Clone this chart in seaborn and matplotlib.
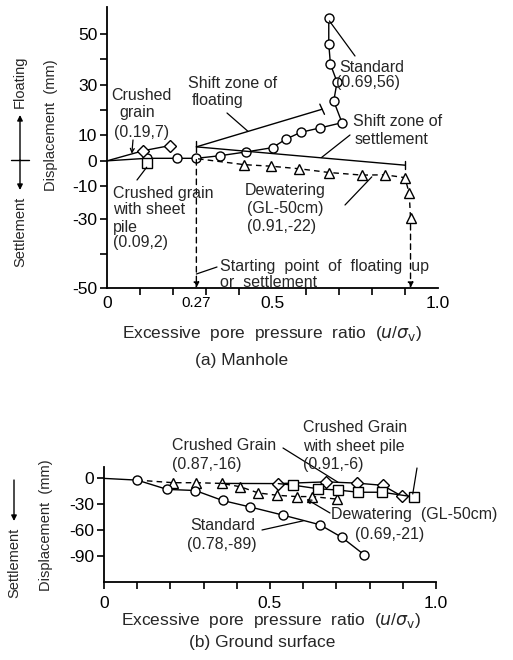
import matplotlib
matplotlib.use("Agg")
import matplotlib.pyplot as plt
import seaborn as sns
import pandas as pd

# ---------------- data: (a) Manhole ----------------
std_a_x = [0.0, 0.12, 0.21, 0.27, 0.34, 0.42, 0.50, 0.54, 0.585, 0.645, 0.71, 0.685, 0.695, 0.675, 0.67, 0.67]
std_a_y = [0.0, 1.0, 1.0, 1.0, 2.0, 3.5, 5.2, 8.5, 11.2, 13.0, 15.0, 23.5, 31.0, 38.0, 46.0, 56.0]
crushed_a_x = [0.0, 0.11, 0.19]
crushed_a_y = [0.0, 4.0, 6.0]
sheet_a_x = [0.12]
sheet_a_y = [-1.0]
dew_a_x = [0.275, 0.415, 0.495, 0.58, 0.672, 0.77, 0.84, 0.90, 0.913, 0.917]
dew_a_y = [0.8, -1.5, -2.1, -3.1, -4.6, -5.6, -5.5, -6.6, -12.7, -22.6]
shift_float_x = [0.27, 0.65]
shift_float_y = [5.5, 20.3]
shift_settle_x = [0.27, 0.90]
shift_settle_y = [5.5, -1.7]
start_ratio = [0.27, 0.917]

# ---------------- data: (b) Ground surface ----------------
std_b_x = [0.0, 0.10, 0.19, 0.275, 0.357, 0.44, 0.54, 0.65, 0.716, 0.783]
std_b_y = [0.0, -2.0, -12.7, -14.0, -25.5, -33.0, -42.5, -53.5, -68.0, -88.0]
dew_b_x = [0.10, 0.209, 0.277, 0.354, 0.41, 0.465, 0.522, 0.58, 0.628, 0.703]
dew_b_y = [-2.0, -5.0, -5.0, -5.8, -9.6, -16.8, -19.5, -21.0, -21.0, -24.0]
crushed_b_x = [0.354, 0.525, 0.67, 0.763, 0.839, 0.897]
crushed_b_y = [-5.8, -6.0, -4.0, -5.5, -8.0, -20.5]
sheet_b_x = [0.525, 0.568, 0.645, 0.706, 0.766, 0.838, 0.935]
sheet_b_y = [-6.0, -7.7, -12.0, -13.5, -16.0, -16.0, -21.5]

sns.set_style("ticks")
plt.rcParams['font.family'] = ['Liberation Sans', 'DejaVu Sans']
plt.rcParams['mathtext.fontset'] = 'dejavusans'
plt.rcParams['axes.unicode_minus'] = False

W, H = 513, 660
fig = plt.figure(figsize=(W / 100, H / 100), dpi=100)
fig.patch.set_facecolor('white')

def P(x, y):
    return (x / W, 1 - y / H)

FS_ANN = 11.5
FS_TICK = 12.5
FS_XLAB = 12.5
FS_YLAB = 10.5
LW = 1.0
MS = 6.5
XLABEL = 'Excessive  pore  pressure  ratio  ($\\it{u}$/$\\sigma_{\\rm v}$)'

def series(ax, x, y, marker, ls='-', markevery=None):
    df = pd.DataFrame({'x': x, 'y': y})
    kw = dict(marker=marker, markersize=MS, markerfacecolor='white',
              markeredgecolor='black', markeredgewidth=LW)
    if markevery is not None:
        kw['markevery'] = markevery
    sns.lineplot(data=df, x='x', y='y', ax=ax, color='black', linewidth=LW,
                 linestyle=ls, sort=False, estimator=None, legend=False, **kw)

def style_axes(ax):
    for s in ['top', 'right']:
        ax.spines[s].set_visible(False)
    for s in ['left', 'bottom']:
        ax.spines[s].set_linewidth(1.3)
        ax.spines[s].set_color('black')
    ax.tick_params(which='both', direction='out', width=1.2, colors='black',
                   labelsize=FS_TICK, pad=2)
    ax.set_facecolor('white')
    ax.grid(False)

# ================= (a) Manhole =================
axa = fig.add_axes([107 / W, 1 - 288 / H, (438 - 107) / W, (288 - 7) / H])
style_axes(axa)
axa.set_xlim(0, 1.0)
axa.set_ylim(-50, 60.5)

series(axa, std_a_x, std_a_y, 'o', markevery=list(range(1, len(std_a_x))))
series(axa, crushed_a_x, crushed_a_y, 'D', markevery=[1, 2])
series(axa, dew_a_x, dew_a_y, '^', ls=(0, (4, 3)), markevery=list(range(1, len(dew_a_x))))
series(axa, sheet_a_x, sheet_a_y, 's')
axa.plot(shift_float_x, shift_float_y, color='black', lw=LW)
axa.plot(shift_settle_x, shift_settle_y, color='black', lw=LW)
# end bars of shift zones
axa.plot([0.27, 0.27], [3.3, 7.7], color='black', lw=LW)
axa.plot([0.643, 0.657], [22.3, 18.3], color='black', lw=LW)
axa.plot([0.90, 0.90], [-0.1, -3.3], color='black', lw=LW)

# vertical dashed arrows to starting points
axa.annotate('', xy=(start_ratio[0], -50), xytext=(start_ratio[0], 0.5),
             arrowprops=dict(arrowstyle='-|>', ls=(0, (4, 3)), lw=LW, color='black',
                             mutation_scale=8, shrinkA=0, shrinkB=0))
axa.annotate('', xy=(start_ratio[1], -50), xytext=(start_ratio[1], -25),
             arrowprops=dict(arrowstyle='-|>', ls=(0, (4, 3)), lw=LW, color='black',
                             mutation_scale=8, shrinkA=0, shrinkB=0))

axa.set_xticks([0, 0.27, 0.5, 1.0])
axa.set_xticklabels(['0', '0.27', '0.5', '1.0'])
axa.get_xticklabels()[1].set_fontsize(11)
axa.set_xticks([i / 10 for i in range(11)], minor=True)
axa.tick_params(axis='x', which='major', length=0, pad=6)
axa.tick_params(axis='x', which='minor', length=5)
ya_ticks = [50, 40, 30, 20, 10, 0, -10, -23, -36.5, -50]
ya_labels = ['50', '', '30', '', '10', '0', '-10', '-30', '', '-50']
axa.set_yticks(ya_ticks)
axa.set_yticklabels(ya_labels)
axa.tick_params(axis='y', which='major', length=5)
axa.set_xlabel(XLABEL, fontsize=FS_XLAB)
axa.xaxis.set_label_coords((272 - 107) / 331, -(324 - 288) / 281)
axa.set_ylabel('Displacement  (mm)', fontsize=FS_YLAB)
axa.yaxis.set_label_coords((58 - 107) / 331, (288 - 125) / 281)

# annotation pointer lines (a)
def pointer(ax, xy, fpx, arrow=False):
    ax.annotate('', xy=xy, xycoords='data', xytext=P(*fpx), textcoords='figure fraction',
                arrowprops=dict(arrowstyle='->' if arrow else '-', lw=0.9, color='black',
                                shrinkA=0, shrinkB=0, mutation_scale=7))

pointer(axa, (0.672, 55), (355, 56))
pointer(axa, (0.648, 1.3), (350, 135))
pointer(axa, (0.426, 11.6), (227, 113))
pointer(axa, (0.075, 2.8), (133, 140), arrow=True)
pointer(axa, (0.12, -2.5), (137, 180))
pointer(axa, (0.80, -6.3), (345, 205))
pointer(axa, (0.27, -44.5), (217, 267))

def T(x, y, s, ha='left', fs=FS_ANN, **kw):
    fig.text(*P(x, y), s, ha=ha, va='center', fontsize=fs, linespacing=1.15, **kw)

T(339, 67, 'Standard')
T(336, 83, '(0.69,56)')
T(353, 122, 'Shift zone of')
T(355, 139, 'settlement')
T(188, 83, 'Shift zone of')
T(192, 100, 'floating')
T(141, 95, 'Crushed', ha='center')
T(137, 112, 'grain', ha='center')
T(142, 132, '(0.19,7)', ha='center')
T(113, 193, 'Crushed grain')
T(113, 210, 'with sheet')
T(113, 227, 'pile')
T(113, 243, '(0.09,2)')
T(245, 190, 'Dewatering')
T(247, 209, '(GL-50cm)')
T(247, 226, '(0.91,-22)')
T(220, 267, 'Starting  point  of  floating  up')
T(220, 283, 'or  settlement')
T(242, 360, '(a) Manhole', ha='center', fs=FS_XLAB)

# Settlement <-> Floating indicator
T(20, 82, 'Floating', ha='center', fs=FS_YLAB, rotation=90)
T(20, 232, 'Settlement', ha='center', fs=FS_YLAB, rotation=90)
fig.add_artist(plt.Line2D([11 / W, 29 / W], [1 - 160 / H, 1 - 160 / H], color='black', lw=1.0))
for y_end in (115, 190):
    fig.add_artist(matplotlib.patches.FancyArrowPatch(P(20, 160), P(20, y_end),
                   transform=fig.transFigure, arrowstyle='-|>', mutation_scale=8,
                   color='black', lw=1.0, shrinkA=0, shrinkB=0))

# ================= (b) Ground surface =================
axb = fig.add_axes([104 / W, 1 - 582.3 / H, (436 - 104) / W, (582.3 - 466.7) / H])
style_axes(axb)
axb.set_xlim(0, 1.0)
axb.set_ylim(-120, 13.5)

series(axb, dew_b_x, dew_b_y, '^', ls=(0, (4, 3)), markevery=list(range(1, len(dew_b_x))))
series(axb, crushed_b_x, crushed_b_y, 'D', markevery=list(range(1, len(crushed_b_x))))
series(axb, sheet_b_x, sheet_b_y, 's', markevery=list(range(1, len(sheet_b_x))))
series(axb, std_b_x, std_b_y, 'o', markevery=list(range(1, len(std_b_x))))

axb.set_xticks([0, 0.5, 1.0])
axb.set_xticklabels(['0', '0.5', '1.0'])
axb.set_xticks([i / 10 for i in range(11)], minor=True)
axb.tick_params(axis='x', which='major', length=5, pad=5)
axb.tick_params(axis='x', which='minor', length=5)
axb.set_yticks([0, -30, -60, -90])
axb.set_yticklabels(['0', '-30', '-60', '-90'])
axb.tick_params(axis='y', which='major', length=5)
axb.set_xlabel(XLABEL, fontsize=FS_XLAB)
axb.xaxis.set_label_coords((271 - 104) / 332, -(611 - 582.3) / 115.6)
axb.set_ylabel('Displacement  (mm)', fontsize=FS_YLAB)
axb.yaxis.set_label_coords((53 - 104) / 332, (582.3 - 525) / 115.6)

pointer(axb, (0.705, -4.5), (283, 448))
pointer(axb, (0.93, -18), (417, 468))
pointer(axb, (0.61, -24), (330, 513), arrow=True)
pointer(axb, (0.60, -49), (262, 530))

T(172, 445, 'Crushed Grain')
T(172, 465, '(0.87,-16)')
T(303, 428, 'Crushed Grain')
T(303, 446, 'with sheet pile')
T(303, 465, '(0.91,-6)')
T(331, 515, 'Dewatering  (GL-50cm)')
T(355, 535, '(0.69,-21)')
T(190, 526, 'Standard')
T(187, 545, '(0.78,-89)')
T(262, 642, '(b) Ground surface', ha='center', fs=FS_XLAB)

T(14, 563, 'Settlement', ha='center', fs=FS_YLAB, rotation=90)
fig.add_artist(matplotlib.patches.FancyArrowPatch(P(14, 480), P(14, 521),
               transform=fig.transFigure, arrowstyle='-|>', mutation_scale=8,
               color='black', lw=1.0, shrinkA=0, shrinkB=0))

fig.savefig('out.png', dpi=100, facecolor='white')
